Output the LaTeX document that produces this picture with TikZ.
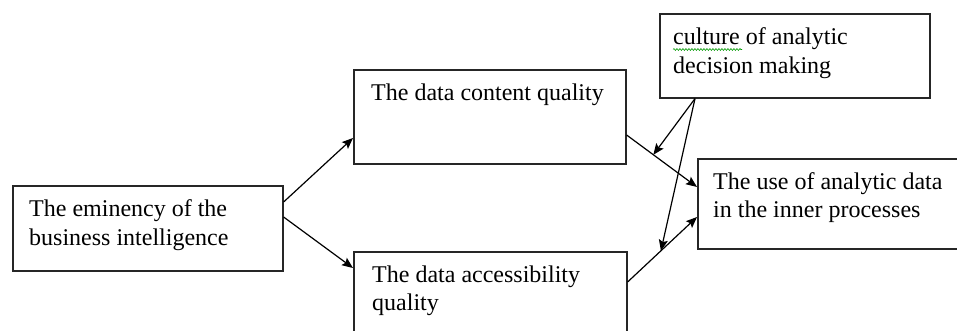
\documentclass[tikz,border=0pt]{standalone}
\usepackage{fontspec}
\setmainfont{Liberation Serif}
\usetikzlibrary{arrows.meta,calc,decorations.pathmorphing}
\begin{document}
\begin{tikzpicture}[x=1pt,y=-1pt,
  box/.style={draw=black!85,line width=1.6pt,inner sep=0pt,anchor=north west},
  lbl/.style={inner sep=0pt,anchor=base west,align=left,font=\fontsize{24}{28.5}\selectfont},
  link/.style={line width=1.2pt,-{Stealth[length=11pt,width=9pt,inset=2pt]}}]
\useasboundingbox (0,0) rectangle (957,331);

% boxes
\node[box,minimum width=270pt,minimum height=85pt] (bi) at (12,185) {};
\node[box,minimum width=272pt,minimum height=94pt] (dc) at (353,69) {};
\node[box,minimum width=273pt,minimum height=95pt] (da) at (353,251) {};
\node[box,minimum width=270pt,minimum height=84pt] (cu) at (659,13) {};
\node[box,minimum width=275pt,minimum height=90pt] (us) at (697,158) {};

% labels (a multi-line label sits on the baseline of its last line)
\node[lbl] (tbi) at (29,245) {The eminency of the\\business intelligence};
\node[lbl] (tdc) at (371,101) {The data content quality};
\node[lbl] (tda) at (372,310.5) {The data accessibility\\quality};
\node[lbl] (tcu) at (673,73.5) {culture of analytic\\decision making};
\node[lbl] (tus) at (713,217.5) {The use of analytic data\\in the inner processes};

% spelling mark under the first word
\draw[green!60!black,line width=0.6pt,decorate,
  decoration={snake,amplitude=0.9pt,segment length=3pt}]
  ([yshift=24pt]tcu.base west) -- ++(69,0);

% end points on the box borders
\coordinate (bi1) at ([yshift=-17pt]bi.north east);
\coordinate (bi2) at ([yshift=-32pt]bi.north east);
\coordinate (dcin) at ([yshift=-69pt]dc.north west);
\coordinate (dcout) at ([yshift=-66pt]dc.north east);
\coordinate (dain) at ([yshift=-17pt]da.north west);
\coordinate (daout) at ([yshift=-31pt]da.north east);
\coordinate (us1) at ([yshift=-29pt]us.north west);
\coordinate (us2) at ([yshift=-59pt]us.north west);
\coordinate (cuout) at ([xshift=36pt]cu.south west);

% connectors
\draw[link] (bi1) -- (dcin);
\draw[link] (bi2) -- (dain);
\draw[link] (dcout) -- (us1);
\draw[link] (daout) -- (us2);
\draw[link] (cuout) -- ($(dcout)!0.38!(us1)$);
\draw[link] (cuout) -- ($(daout)!0.48!(us2)$);
\end{tikzpicture}
\end{document}
